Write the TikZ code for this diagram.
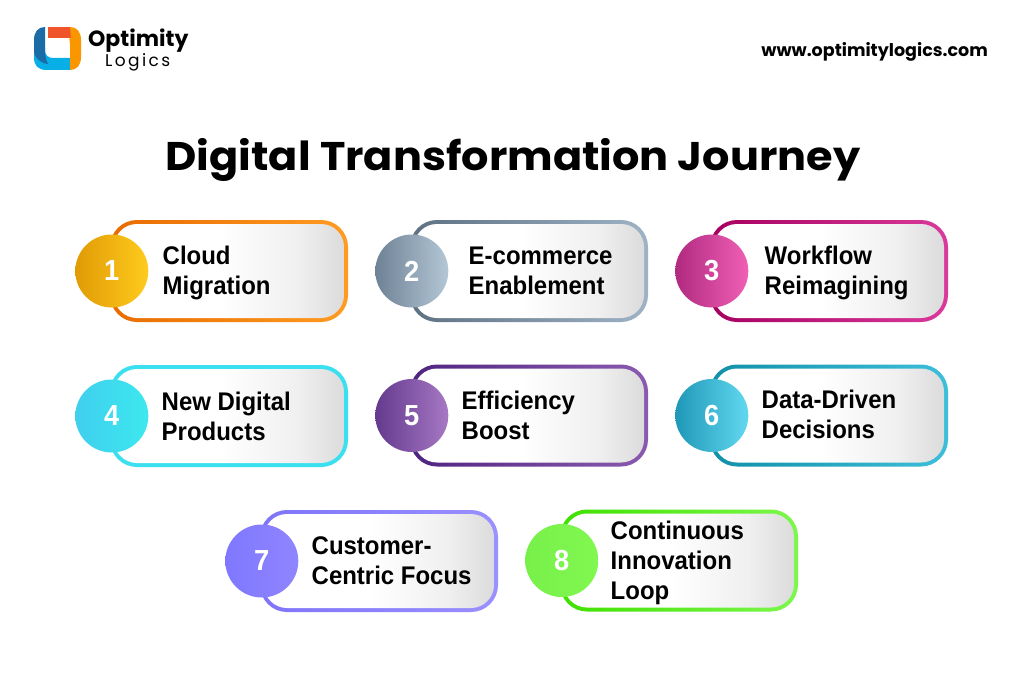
\documentclass[tikz,border=0pt]{standalone}
\usepackage{fontspec}
\usepackage{graphicx}
\usepackage{tikz}
\usetikzlibrary{positioning}
\setmainfont[FakeStretch=0.94]{Liberation Sans}
\newfontfamily\brandfont{Poppins}
\newfontfamily\spacedfont[LetterSpace=14]{Poppins}

\definecolor{rimoneL}{HTML}{E86C00}\definecolor{rimoneR}{HTML}{FF9B22}
\definecolor{badgeoneL}{HTML}{E09B05}\definecolor{badgeoneR}{HTML}{FFCB1E}
\definecolor{rimtwoL}{HTML}{5E7183}\definecolor{rimtwoR}{HTML}{9FB3C6}
\definecolor{badgetwoL}{HTML}{6E8296}\definecolor{badgetwoR}{HTML}{B4C7D6}
\definecolor{rimthreeL}{HTML}{A60060}\definecolor{rimthreeR}{HTML}{DA3A9C}
\definecolor{badgethreeL}{HTML}{B02A80}\definecolor{badgethreeR}{HTML}{F060B5}
\definecolor{rimfourL}{HTML}{3ADFF0}\definecolor{rimfourR}{HTML}{3ADFF0}
\definecolor{badgefourL}{HTML}{40CFEE}\definecolor{badgefourR}{HTML}{3CE8EE}
\definecolor{rimfiveL}{HTML}{4F2480}\definecolor{rimfiveR}{HTML}{8A5AB0}
\definecolor{badgefiveL}{HTML}{643A8E}\definecolor{badgefiveR}{HTML}{A678C4}
\definecolor{rimsixL}{HTML}{1190A8}\definecolor{rimsixR}{HTML}{3DBEDA}
\definecolor{badgesixL}{HTML}{1F98B8}\definecolor{badgesixR}{HTML}{62D8F0}
\definecolor{rimsevenL}{HTML}{7F74F8}\definecolor{rimsevenR}{HTML}{9A90FF}
\definecolor{badgesevenL}{HTML}{7F78FF}\definecolor{badgesevenR}{HTML}{9085FF}
\definecolor{rimeightL}{HTML}{3FE000}\definecolor{rimeightR}{HTML}{7CF84C}
\definecolor{badgeeightL}{HTML}{78F04A}\definecolor{badgeeightR}{HTML}{80F850}
\definecolor{logonavy}{HTML}{1A6BA6}\definecolor{logosky}{HTML}{08AEE6}
\definecolor{logored}{HTML}{F0542A}\definecolor{logoamber}{HTML}{FA9600}

\pgfdeclarehorizontalshading{cardfill}{100bp}{color(0bp)=(white); color(48bp)=(white); color(65bp)=(black!6); color(75bp)=(black!14); color(100bp)=(black!14)}

\begin{document}
\begin{tikzpicture}[x=1pt, y=-1pt,
        cardrim/.style 2 args={rectangle, rounded corners=27pt, minimum width=238pt, minimum height=102pt, inner sep=0pt, left color=#1, right color=#2},
        cardface/.style={rectangle, rounded corners=23pt, minimum width=230pt, minimum height=94pt, inner sep=0pt, shading=cardfill},
        badge/.style 2 args={circle, minimum size=73pt, inner sep=0pt, left color=#1, right color=#2, text=white, font=\fontsize{29}{30}\selectfont\bfseries},
        label/.style={inner sep=0pt, align=left, font=\fontsize{25.5}{30}\selectfont\bfseries}
    ]
        \path[use as bounding box, fill=white] (0,0) rectangle (1024,682);

        % logo
        \fill[logosky] (34,48) -- (45,48) -- (45,50) .. controls (45,55) and (48,58) .. (53,58) -- (70,58) -- (70,70) -- (47,70) .. controls (38,70) and (34,66) .. (34,57) -- cycle;
        \fill[logonavy] (45,27) .. controls (38,27) and (34,32) .. (34,40) -- (34,52) .. controls (35,58) and (40,63) .. (48,64) .. controls (46,60) and (45,56) .. (45,50) -- cycle;
        \fill[logored] (48,27) -- (71,27) -- (71,38) -- (48,38) -- cycle;
        \fill[logoamber] (70,27) .. controls (77,27) and (81,32) .. (81,40) -- (81,57) .. controls (81,65) and (77,70) .. (70,70) -- (70,44) .. controls (70,40) and (68,38) .. (71,38) -- cycle;

        \node[anchor=west, inner sep=0pt, font=\brandfont\fontsize{22}{26}\selectfont\bfseries] (brand) at (88,40.5) {Optimity};
        \node[anchor=west, inner sep=0pt, font=\spacedfont\fontsize{17}{18}\selectfont] (brandsub) at (105,62.5) {Logics};
        \node[anchor=east, inner sep=0pt, font=\brandfont\fontsize{17.5}{20}\selectfont\bfseries] (website) at (988,52) {www.optimitylogics.com};

        \node[inner sep=0pt, font=\brandfont\fontsize{40}{44}\selectfont\bfseries] (title) at (513,160) {\scalebox{1.076}[1]{Digital Transformation Journey}};

        % first row
        \node[cardrim={rimoneL}{rimoneR}] (rim1) at (229,271) {};
        \node[cardface] (face1) at (rim1) {};
        \node[badge={badgeoneL}{badgeoneR}] (badge1) at (rim1.west) [xshift=2pt] {1};
        \node[label, right=14pt of badge1, yshift=-2pt] (text1) {Cloud\\Migration};

        \node[cardrim={rimtwoL}{rimtwoR}] (rim2) at (529,271) {};
        \node[cardface] (face2) at (rim2) {};
        \node[badge={badgetwoL}{badgetwoR}] (badge2) at (rim2.west) [xshift=2pt] {2};
        \node[label, right=20pt of badge2] (text2) {E-commerce\\Enablement};

        \node[cardrim={rimthreeL}{rimthreeR}] (rim3) at (829,271) {};
        \node[cardface] (face3) at (rim3) {};
        \node[badge={badgethreeL}{badgethreeR}] (badge3) at (rim3.west) [xshift=2pt] {3};
        \node[label, right=16pt of badge3, yshift=-2pt] (text3) {Workflow\\Reimagining};

        % second row
        \node[cardrim={rimfourL}{rimfourR}] (rim4) at (229,416) {};
        \node[cardface] (face4) at (rim4) {};
        \node[badge={badgefourL}{badgefourR}] (badge4) at (rim4.west) [xshift=2pt] {4};
        \node[label, right=13pt of badge4] (text4) {New Digital\\Products};

        \node[cardrim={rimfiveL}{rimfiveR}] (rim5) at (529,415.5) {};
        \node[cardface] (face5) at (rim5) {};
        \node[badge={badgefiveL}{badgefiveR}] (badge5) at (rim5.west) [xshift=2pt] {5};
        \node[label, right=13pt of badge5] (text5) {Efficiency\\Boost};

        \node[cardrim={rimsixL}{rimsixR}] (rim6) at (829,415.5) {};
        \node[cardface] (face6) at (rim6) {};
        \node[badge={badgesixL}{badgesixR}] (badge6) at (rim6.west) [xshift=2pt] {6};
        \node[label, right=13pt of badge6, yshift=1pt] (text6) {Data-Driven\\Decisions};

        % third row
        \node[cardrim={rimsevenL}{rimsevenR}] (rim7) at (379,561) {};
        \node[cardface] (face7) at (rim7) {};
        \node[badge={badgesevenL}{badgesevenR}] (badge7) at (rim7.west) [xshift=2pt] {7};
        \node[label, right=13pt of badge7] (text7) {Customer-\\Centric Focus};

        \node[cardrim={rimeightL}{rimeightR}] (rim8) at (679,560.5) {};
        \node[cardface] (face8) at (rim8) {};
        \node[badge={badgeeightL}{badgeeightR}] (badge8) at (rim8.west) [xshift=2pt] {8};
        \node[label, right=12pt of badge8, yshift=-2pt] (text8) {Continuous\\Innovation\\Loop};
    \end{tikzpicture}
\end{document}
